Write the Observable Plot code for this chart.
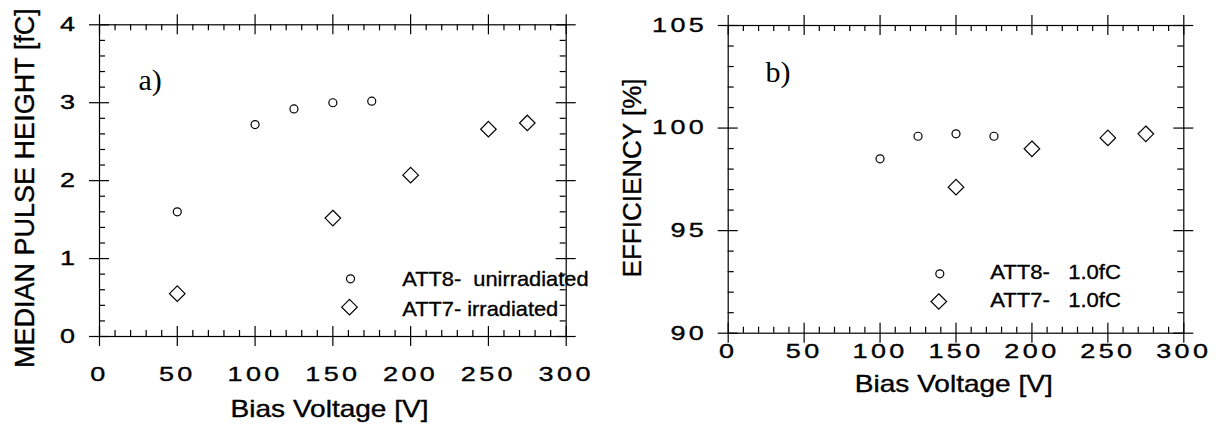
<!DOCTYPE html>
<html><head><meta charset="utf-8">
<script src="https://cdn.jsdelivr.net/npm/d3@7"></script>
<script src="https://cdn.jsdelivr.net/npm/@observablehq/plot@0.6"></script>
<style>
html,body{margin:0;padding:0;background:#fff;}
#wrap{display:flex;width:1216px;height:425px;overflow:hidden;}
svg text{white-space:pre;}
</style></head><body><div id="wrap"></div>
<script>
// ---- data ----
const voltATT8a = [50, 100, 125, 150, 175];
const pulseATT8 = [1.6, 2.72, 2.92, 3.0, 3.02];
const voltATT7a = [50, 150, 200, 250, 275];
const pulseATT7 = [0.55, 1.52, 2.07, 2.66, 2.74];

const voltATT8b = [100, 125, 150, 175];
const effATT8 = [98.5, 99.6, 99.72, 99.6];
const voltATT7b = [150, 200, 250, 275];
const effATT7 = [97.12, 98.99, 99.52, 99.72];

const xTicks = [0, 50, 100, 150, 200, 250, 300];
const yTicksA = [0, 1, 2, 3, 4];
const yTicksB = [90, 95, 100, 105];
const legendA = ["ATT8-  unirradiated", "ATT7- irradiated"];
const legendB = ["ATT8-   1.0fC", "ATT7-   1.0fC"];
const titleX = "Bias Voltage [V]";
const titleYA = "MEDIAN PULSE HEIGHT [fC]";
const titleYB = "EFFICIENCY [%]";

const toRows = (xs, ys) => xs.map((x, i) => ({x, y: ys[i]}));

function boxTicks({xMajor, xMinor, yMajor, yMinor, H, W}) {
  const st = {stroke: "black", strokeWidth: 1.2};
  const M = 10, m = 6;
  return [
    Plot.tickX(xMajor, {x: d => d, insetTop: H - M, insetBottom: -M, ...st}),
    Plot.tickX(xMajor, {x: d => d, insetTop: -M, insetBottom: H - M, ...st}),
    Plot.tickX(xMinor, {x: d => d, insetTop: H - m, insetBottom: 0, ...st}),
    Plot.tickX(xMinor, {x: d => d, insetTop: 0, insetBottom: H - m, ...st}),
    Plot.tickY(yMajor, {y: d => d, insetLeft: -M, insetRight: W - M, ...st}),
    Plot.tickY(yMajor, {y: d => d, insetLeft: W - M, insetRight: -M, ...st}),
    Plot.tickY(yMinor, {y: d => d, insetLeft: 0, insetRight: W - m, ...st}),
    Plot.tickY(yMinor, {y: d => d, insetLeft: W - m, insetRight: 0, ...st}),
    Plot.frame(st)
  ];
}

function stretch(svg) {
  svg.querySelectorAll('g[aria-description^="sx="]').forEach(g => {
    const parts = Object.fromEntries(g.getAttribute("aria-description").split(";").map(p => p.split("=")));
    g.querySelectorAll("text").forEach(t => {
      let tr = t.getAttribute("transform");
      if (!tr) {
        const x = t.getAttribute("x") || 0, y = t.getAttribute("y") || 0;
        t.removeAttribute("x"); t.removeAttribute("y");
        tr = `translate(${x},${y})`;
      }
      t.setAttribute("transform", tr + ` scale(${parts.sx},1)`);
      if (parts.ls) t.style.letterSpacing = parts.ls + "px";
    });
  });
  return svg;
}

function panel(o) {
  const H = o.height - o.marginTop - o.marginBottom;
  const W = o.width - o.marginLeft - o.marginRight;
  const sym = {stroke: "black", strokeWidth: 1.2, fill: "none"};
  const ink = {fill: "black", stroke: "black", strokeWidth: 0.35};
  const svg = Plot.plot({
    width: o.width, height: o.height,
    marginLeft: o.marginLeft, marginRight: o.marginRight,
    marginTop: o.marginTop, marginBottom: o.marginBottom,
    style: {fontFamily: "Liberation Sans, Arial, sans-serif", background: "white", color: "black", overflow: "visible"},
    x: {domain: [0, 300], axis: null},
    y: {domain: o.yDomain, axis: null},
    marks: [
      ...boxTicks({xMajor: xTicks, xMinor: d3.range(0, 301, 10).filter(v => v % 50), yMajor: o.yMajor, yMinor: o.yMinor, H, W}),
      // tick labels
      Plot.text(xTicks, {x: d => d, text: d => String(d), frameAnchor: "bottom", dy: o.xLabelDy, lineAnchor: "top", fontSize: 20, ...ink, ariaDescription: "sx=1.35;ls=2.5"}),
      Plot.text(o.yMajor, {y: d => d, text: d => String(d), frameAnchor: "left", dx: -21, textAnchor: "end", lineAnchor: "middle", fontSize: 20, ...ink, ariaDescription: "sx=1.35;ls=2.5"}),
      // axis titles
      Plot.text([titleX], {text: d => d, frameAnchor: "bottom", dx: o.xTitleDx, dy: o.xTitleDy, lineAnchor: "bottom", fontSize: 23, ...ink, ariaDescription: "sx=1.22"}),
      Plot.text([o.yTitle], {text: d => d, frameAnchor: "left", dx: o.yTitleDx, dy: o.yTitleDy, rotate: -90, textAnchor: "middle", lineAnchor: "bottom", fontSize: o.yTitleSize, ...ink}),
      // panel label
      Plot.text([o.tag], {text: d => d, frameAnchor: "top-left", dx: o.tagDx, dy: o.tagDy, textAnchor: "start", lineAnchor: "bottom", fontFamily: "Liberation Serif, Times New Roman, serif", fontSize: 30, fill: "black"}),
      // data
      Plot.dot(o.circles, {x: "x", y: "y", r: 4, symbol: "circle", ...sym}),
      Plot.dot(o.diamonds, {x: "x", y: "y", r: 7, symbol: "diamond2", ...sym}),
      // legend
      Plot.dot([o.legend[0]], {frameAnchor: "bottom-left", dx: o.legSymDx, dy: o.legDy[0], r: 4, symbol: "circle", ...sym}),
      Plot.dot([o.legend[1]], {frameAnchor: "bottom-left", dx: o.legSymDx - 1, dy: o.legDy[1], r: 7, symbol: "diamond2", ...sym}),
      Plot.text([o.legend[0]], {text: d => d, frameAnchor: "bottom-left", dx: o.legTextDx, dy: o.legTextDy[0], textAnchor: "start", lineAnchor: "middle", fontSize: 21, ...ink, ariaDescription: "sx=" + o.legSx}),
      Plot.text([o.legend[1]], {text: d => d, frameAnchor: "bottom-left", dx: o.legTextDx, dy: o.legTextDy[1], textAnchor: "start", lineAnchor: "middle", fontSize: 21, ...ink, ariaDescription: "sx=" + o.legSx})
    ]
  });
  return stretch(svg);
}

const wrap = document.getElementById("wrap");
wrap.appendChild(panel({
  width: 608, height: 425, marginLeft: 99, marginRight: 42.3, marginTop: 24.3, marginBottom: 89,
  yDomain: [0, 4], yMajor: yTicksA, yMinor: d3.range(0, 4.01, 0.2).map(v => +v.toFixed(1)).filter(v => v % 1),
  xLabelDy: 30, xTitleDx: -3.3, xTitleDy: 80.7,
  yTitle: titleYA, yTitleDx: -65.7, yTitleDy: 7.5, yTitleSize: 27,
  tag: "a)", tagDx: 39, tagDy: 65.5,
  circles: toRows(voltATT8a, pulseATT8), diamonds: toRows(voltATT7a, pulseATT7),
  legend: legendA, legSymDx: 251, legDy: [-57.7, -29.3], legTextDx: 302.7, legTextDy: [-57, -27], legSx: 1.04
}));
wrap.appendChild(panel({
  width: 608, height: 425, marginLeft: 119.7, marginRight: 32.7, marginTop: 25, marginBottom: 92.3,
  yDomain: [90, 105], yMajor: yTicksB, yMinor: d3.range(90, 106, 1).filter(v => v % 5),
  xLabelDy: 10.7, xTitleDx: -2.2, xTitleDy: 59,
  yTitle: titleYB, yTitleDx: -87.7, yTitleDy: -1.4, yTitleSize: 26,
  tag: "b)", tagDx: 37.3, tagDy: 56.7,
  circles: toRows(voltATT8b, effATT8), diamonds: toRows(voltATT7b, effATT7),
  legend: legendB, legSymDx: 211.6, legDy: [-59.4, -31.7], legTextDx: 262, legTextDy: [-61, -32.7], legSx: 1.05
}));
</script></body></html>
